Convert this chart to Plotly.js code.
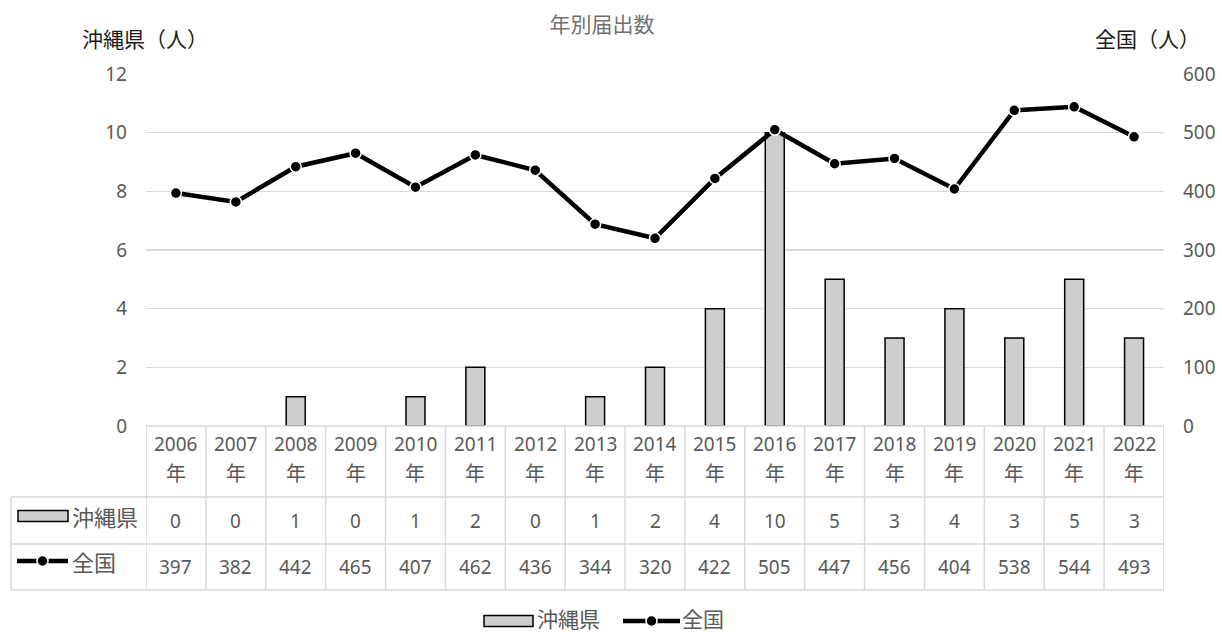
<!DOCTYPE html>
<html>
<head>
<meta charset="utf-8">
<script src="https://cdn.plot.ly/plotly-3.0.1.min.js"></script>
<style>
  html, body { margin: 0; padding: 0; background: #ffffff; }
  #chart { width: 1222px; height: 632px; }
</style>
</head>
<body>
<div id="chart"></div>
<script>
// 年別届出数（沖縄県・全国）
const years = ['2006', '2007', '2008', '2009', '2010', '2011', '2012', '2013', '2014',
               '2015', '2016', '2017', '2018', '2019', '2020', '2021', '2022'];
const yearSuffix = '年';
const okinawa = [0, 0, 1, 0, 1, 2, 0, 1, 2, 4, 10, 5, 3, 4, 3, 5, 3];
const national = [397, 382, 442, 465, 407, 462, 436, 344, 320, 422, 505, 447, 456, 404, 538, 544, 493];
const seriesNames = ['沖縄県', '全国'];
const chartTitle = '年別届出数';
const leftAxisTitle = '沖縄県（人）';
const rightAxisTitle = '全国（人）';

const W = 1222, H = 632;
const M = { l: 146, r: 58, t: 74, b: 206 };
const plotW = W - M.l - M.r;
const plotH = H - M.t - M.b;
// pixel -> paper helpers for the data table and legend drawn under the plot
const px = x => (x - M.l) / plotW;
const py = y => (M.t + plotH - y) / plotH;

const FONT = '"Noto Sans", "Noto Sans CJK JP", sans-serif';
const TXT = '#595959';
const GRID = '#d9d9d9';
const BAR_FILL = '#cfcecf';

const xCats = years.map(y => y + yearSuffix);

const traces = [
  {
    // zero counts draw no bar at all
    type: 'bar', name: seriesNames[0], x: xCats, y: okinawa.map(v => (v === 0 ? null : v)), yaxis: 'y',
    marker: { color: BAR_FILL, line: { color: '#000000', width: 1.5 } },
    showlegend: false, hoverinfo: 'x+y'
  },
  {
    type: 'scatter', mode: 'lines+markers', name: seriesNames[1], x: xCats, y: national, yaxis: 'y2',
    line: { color: '#000000', width: 4.5 },
    marker: { color: '#000000', size: 11, line: { color: '#ffffff', width: 1.5 } },
    showlegend: false, cliponaxis: false, hoverinfo: 'x+y'
  }
];

const shapes = [];
const annotations = [];
const lineStyle = { color: GRID, width: 1.5 };

// table rows (pixel y)
const rowTop = 426, row1Bot = 497, row2Bot = 544, row3Bot = 590;
const tableLeft = 11;

// horizontal rules
shapes.push({ type: 'line', xref: 'paper', yref: 'paper', x0: 0, x1: 1, y0: py(rowTop), y1: py(rowTop), line: lineStyle, layer: 'above' });
[row1Bot, row2Bot, row3Bot].forEach(y => {
  shapes.push({ type: 'line', xref: 'paper', yref: 'paper', x0: px(tableLeft), x1: 1, y0: py(y), y1: py(y), line: lineStyle });
});
// vertical rules at category boundaries
for (let i = 0; i <= xCats.length; i++) {
  shapes.push({ type: 'line', xref: 'x', yref: 'paper', x0: i - 0.5, x1: i - 0.5, y0: py(rowTop), y1: py(row3Bot), line: lineStyle });
}
shapes.push({ type: 'line', xref: 'paper', yref: 'paper', x0: px(tableLeft), x1: px(tableLeft), y0: py(row1Bot), y1: py(row3Bot), line: lineStyle });

// header cells and value cells
xCats.forEach((c, i) => {
  annotations.push({ xref: 'x', yref: 'paper', x: c, y: py(444), text: years[i], showarrow: false, font: { family: FONT, size: 19, color: TXT }, yanchor: 'middle' });
  annotations.push({ xref: 'x', yref: 'paper', x: c, y: py(474), text: yearSuffix, showarrow: false, font: { family: FONT, size: 20, color: TXT }, yanchor: 'middle' });
  annotations.push({ xref: 'x', yref: 'paper', x: c, y: py(521), text: String(okinawa[i]), showarrow: false, font: { family: FONT, size: 19, color: TXT }, yanchor: 'middle' });
  annotations.push({ xref: 'x', yref: 'paper', x: c, y: py(567), text: String(national[i]), showarrow: false, font: { family: FONT, size: 19, color: TXT }, yanchor: 'middle' });
});

// legend keys: bar swatch and line-with-marker swatch
function barKey(x0, x1, yMid) {
  shapes.push({ type: 'rect', xref: 'paper', yref: 'paper', x0: px(x0), x1: px(x1), y0: py(yMid - 5.5), y1: py(yMid + 5.5), fillcolor: BAR_FILL, line: { color: '#000000', width: 1.5 } });
}
function lineKey(x0, x1, yMid) {
  shapes.push({ type: 'line', xref: 'paper', yref: 'paper', x0: px(x0), x1: px(x1), y0: py(yMid), y1: py(yMid), line: { color: '#000000', width: 4.5 } });
  const cx = (x0 + x1) / 2;
  shapes.push({ type: 'circle', xref: 'paper', yref: 'paper', x0: px(cx - 5.5), x1: px(cx + 5.5), y0: py(yMid - 5.5), y1: py(yMid + 5.5), fillcolor: '#000000', line: { color: '#ffffff', width: 1.5 } });
}
function keyText(x, y, text, size) {
  annotations.push({ xref: 'paper', yref: 'paper', x: px(x), y: py(y), text: text, showarrow: false, xanchor: 'left', yanchor: 'middle', font: { family: FONT, size: size, color: TXT } });
}

// row labels in the table
barKey(18, 68, 516);
keyText(70, 517, seriesNames[0], 22);
lineKey(17, 68, 561);
keyText(70, 562, seriesNames[1], 22);

// legend under the table
barKey(484, 533, 621);
keyText(535, 619, seriesNames[0], 21);
lineKey(623, 680, 621);
keyText(680, 619, seriesNames[1], 21);

// axis titles
annotations.push({ xref: 'paper', yref: 'paper', x: px(80), y: py(39), text: leftAxisTitle, showarrow: false, xanchor: 'left', yanchor: 'middle', font: { family: FONT, size: 21, color: '#1a1a1a' } });
annotations.push({ xref: 'paper', yref: 'paper', x: px(1202), y: py(39), text: rightAxisTitle, showarrow: false, xanchor: 'right', yanchor: 'middle', font: { family: FONT, size: 21, color: '#1a1a1a' } });

const layout = {
  width: W, height: H,
  margin: { l: M.l, r: M.r, t: M.t, b: M.b, pad: 0 },
  paper_bgcolor: '#ffffff', plot_bgcolor: '#ffffff',
  title: { text: chartTitle, x: 602 / W, xref: 'container', xanchor: 'center', y: 1 - 25 / H, yanchor: 'middle', font: { family: FONT, size: 21, color: '#707070' } },
  showlegend: false,
  bargap: 0.683,
  xaxis: {
    type: 'category', range: [-0.5, xCats.length - 0.5], autorange: false,
    showticklabels: false, ticks: '', showgrid: false, zeroline: false, showline: false, fixedrange: true
  },
  yaxis: {
    range: [0, 12], dtick: 2, tick0: 0, showgrid: true, gridcolor: GRID, gridwidth: 1.5, zeroline: false, showline: false,
    ticks: '', ticklabelstandoff: 18, tickfont: { family: FONT, size: 19, color: TXT }
  },
  yaxis2: {
    range: [0, 600], dtick: 100, tick0: 0, overlaying: 'y', side: 'right', showgrid: false, zeroline: false, showline: false,
    ticks: '', ticklabelstandoff: 18, tickfont: { family: FONT, size: 19, color: TXT }
  },
  shapes: shapes,
  annotations: annotations
};

Plotly.newPlot('chart', traces, layout, { staticPlot: true, displayModeBar: false });
</script>
</body>
</html>
